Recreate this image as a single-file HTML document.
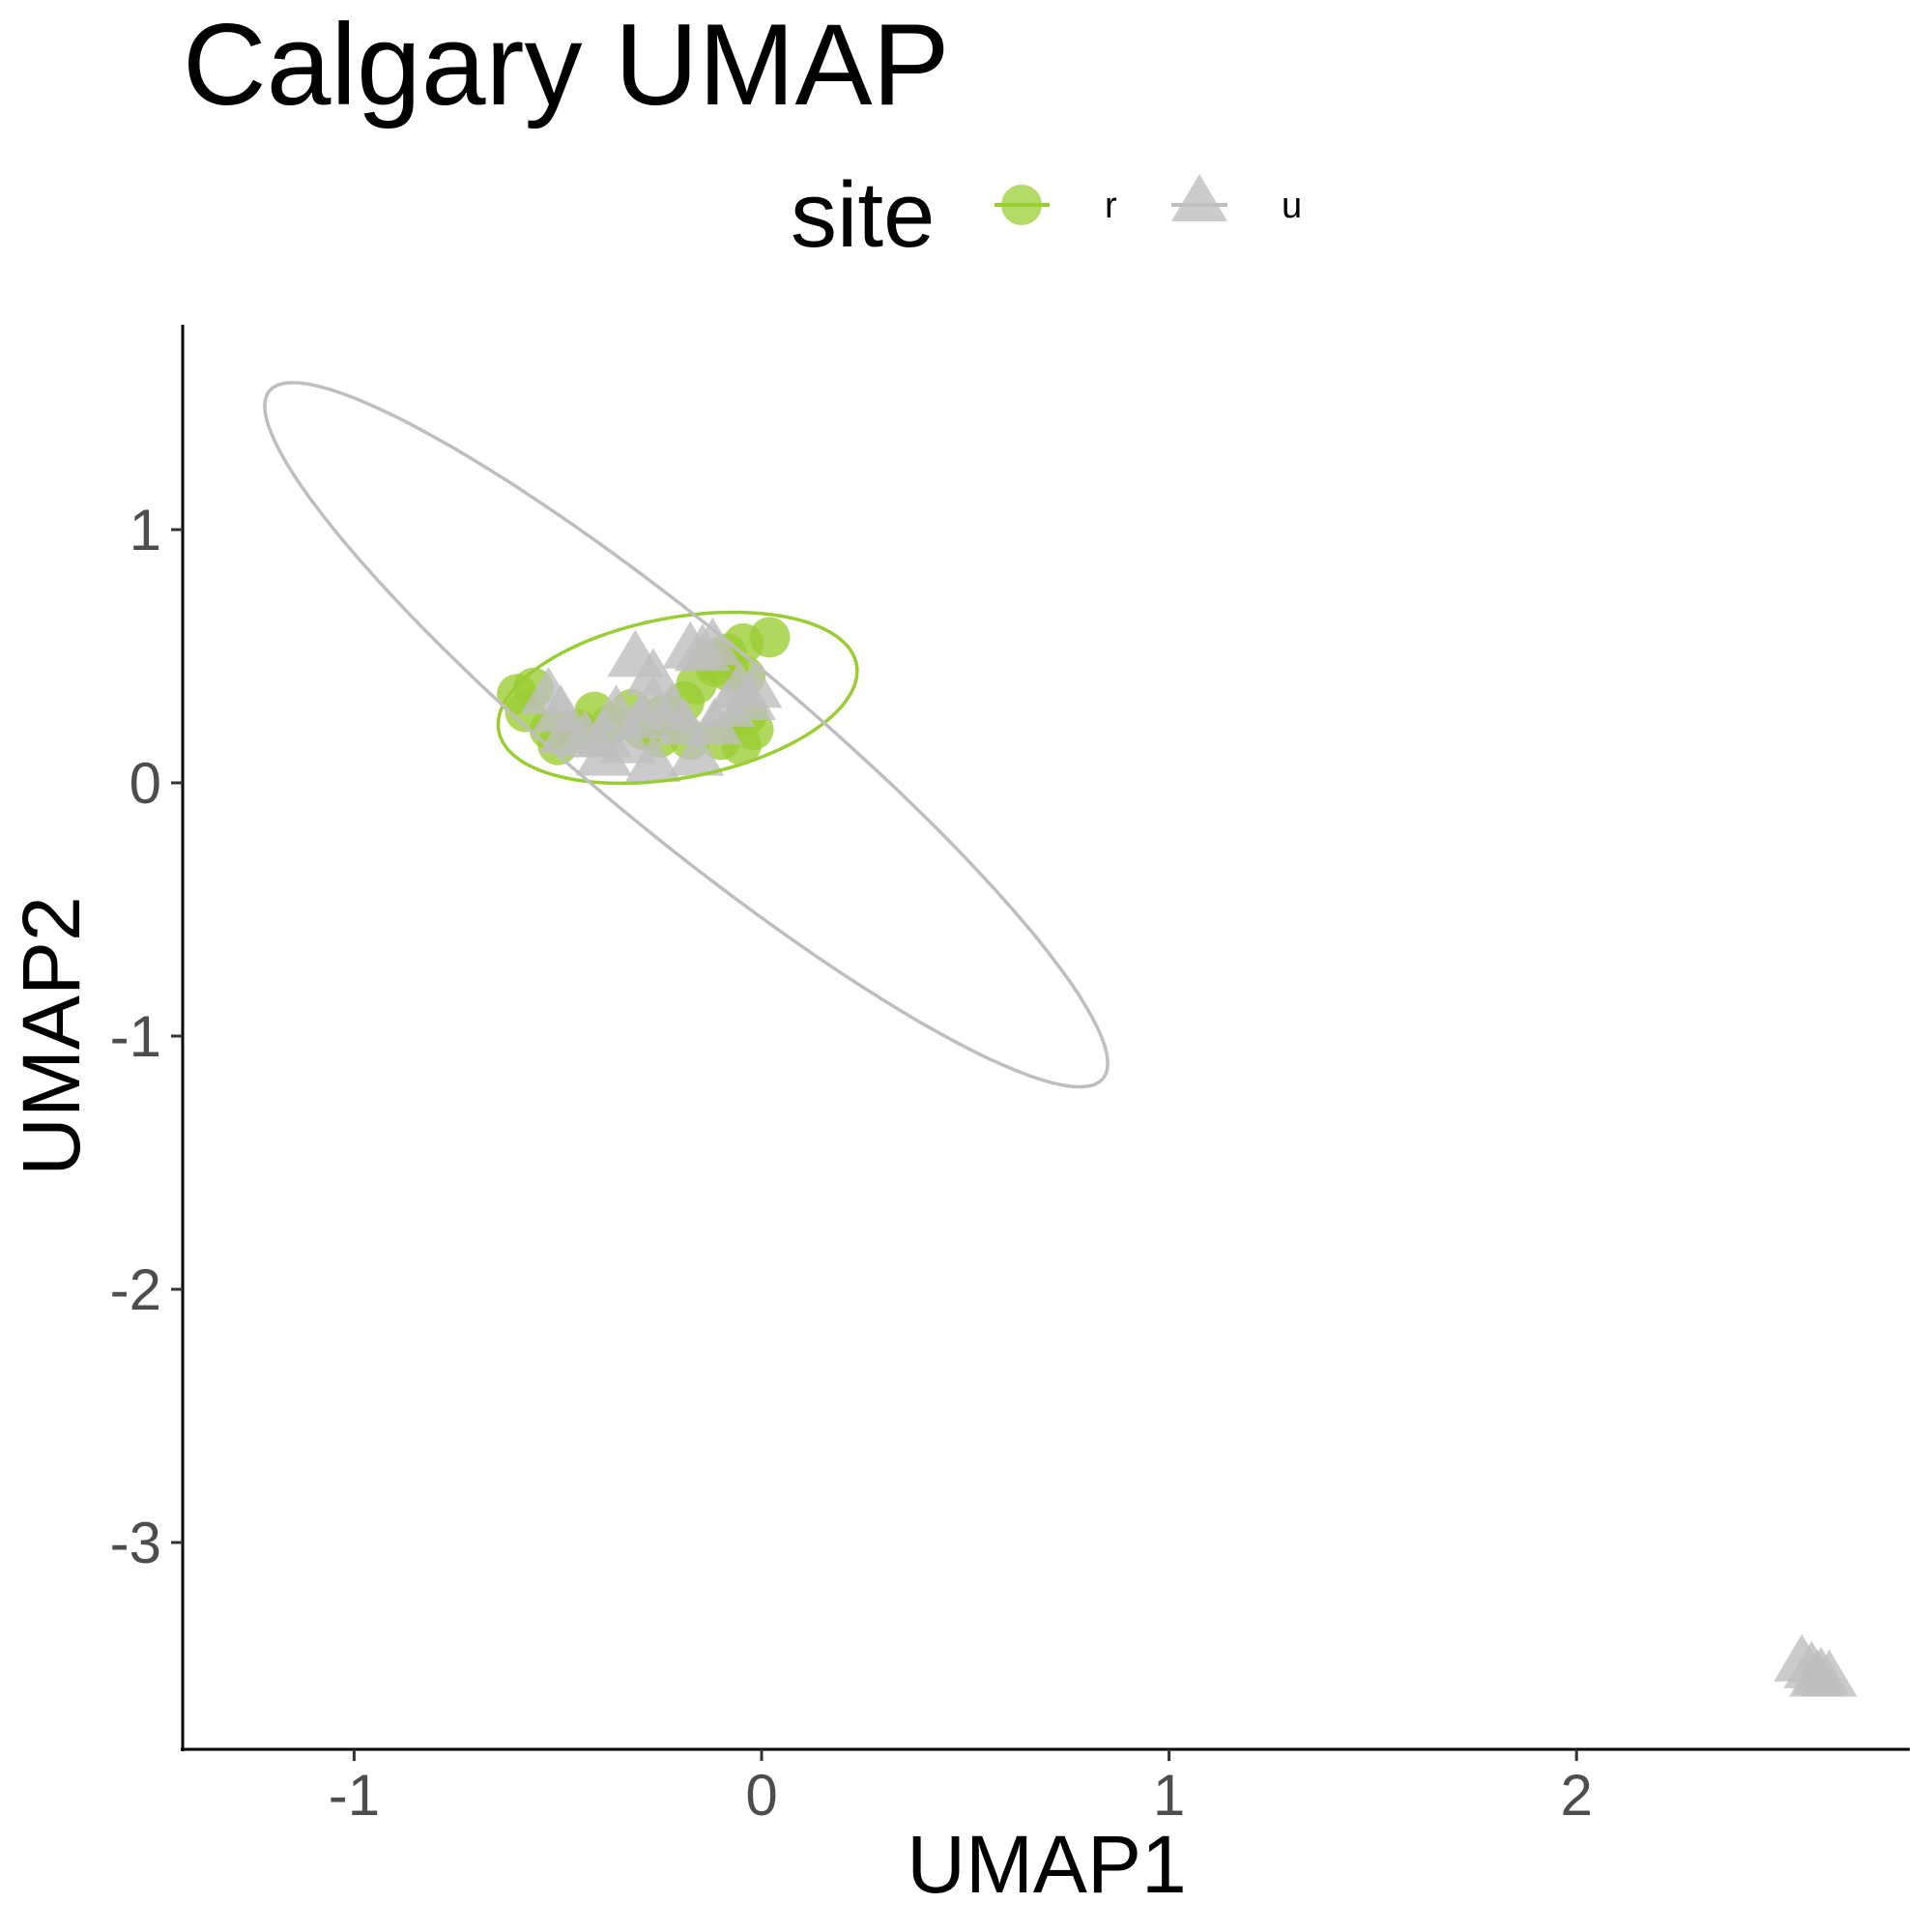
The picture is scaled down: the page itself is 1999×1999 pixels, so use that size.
<!DOCTYPE html>
<html><head><meta charset="utf-8"><style>
html,body{margin:0;padding:0;background:#fff;}
svg{display:block;font-family:"Liberation Sans",sans-serif;}
</style></head><body>
<svg id="chart" width="1999" height="1999" viewBox="0 0 1999 1999" xmlns="http://www.w3.org/2000/svg">
<text x="189" y="108" font-size="120" fill="#000">Calgary UMAP</text>
<g>
<text x="818" y="255" font-size="96" fill="#000">site</text>
<g>
<circle cx="1057" cy="212" r="21" fill="#9acd32" fill-opacity="0.75"/>
<line x1="1029" y1="212" x2="1086" y2="212" stroke="#9acd32" stroke-width="4"/>
<text x="1143" y="225" font-size="38" fill="#000">r</text></g>
<g>
<polygon points="1241,180 1270,229 1212,229" fill="#bebebe" fill-opacity="0.8"/>
<line x1="1212" y1="212" x2="1270" y2="212" stroke="#bebebe" stroke-width="4"/>
<text x="1326" y="225" font-size="38" fill="#000">u</text></g>
</g>
<g id="plot"></g>
<text x="1083" y="1958" font-size="84" text-anchor="middle" fill="#000">UMAP1</text>
<text transform="translate(82,1072) rotate(-90)" font-size="84" text-anchor="middle" fill="#000">UMAP2</text>
</svg>
<script>
const xTicks=[-1,0,1,2];
const yTicks=[1,0,-1,-2,-3];
const rX=[-0.60,-0.56,-0.58,-0.52,-0.50,-0.45,-0.41,-0.37,-0.32,-0.29,-0.24,-0.19,-0.16,-0.115,-0.085,-0.045,0.02,-0.04,-0.035,-0.05,-0.02,-0.10,-0.175,-0.25,-0.12,-0.08];
const rY=[0.35,0.375,0.28,0.21,0.15,0.21,0.28,0.23,0.29,0.21,0.27,0.32,0.39,0.46,0.51,0.55,0.575,0.42,0.27,0.15,0.21,0.17,0.17,0.18,0.49,0.44];
const uX=[-0.31,-0.266,-0.175,-0.145,-0.12,-0.523,-0.493,-0.387,-0.387,-0.357,-0.296,-0.266,-0.22,-0.266,-0.16,-0.115,-0.033,-0.018,-0.478,-0.433,-0.19,-0.085,-0.054,-0.327,2.553,2.577,2.60,2.62,2.59];
const uY=[0.487,0.414,0.52,0.51,0.535,0.34,0.27,0.17,0.097,0.27,0.244,0.307,0.278,0.073,0.097,0.22,0.317,0.365,0.185,0.17,0.22,0.29,0.365,0.146,-3.48,-3.507,-3.53,-3.54,-3.54];
// ellipses: center, axis vectors (data units)
const ellR=[-0.206,0.336,0.439,0.1315,0.036,-0.311];
const ellU=[-0.185,0.19,1.023,-1.358,0.154,0.300];

const X0=788,XU=421.6,Y0=810,YU=262;
const sx=v=>X0+v*XU, sy=v=>Y0-v*YU;
const NS="http://www.w3.org/2000/svg";
const plot=document.getElementById('plot');
function mk(t,a){const e=document.createElementNS(NS,t);for(const k in a)e.setAttribute(k,a[k]);return e;}

const ax=mk('line',{x1:189,y1:336,x2:189,y2:1812,stroke:'#000','stroke-width':3});


plot.appendChild(ax);
const axx=mk('line',{x1:187,y1:1810,x2:1976,y2:1810,stroke:'#000','stroke-width':3});


plot.appendChild(axx);
xTicks.forEach(t=>{
  const l=mk('line',{x1:sx(t),y1:1810,x2:sx(t),y2:1822,stroke:'#333','stroke-width':3});
  
  
  plot.appendChild(l);
  const tx=mk('text',{x:sx(t),y:1878,'font-size':60,'text-anchor':'middle',fill:'#4d4d4d'});
  
  
  tx.textContent=t;plot.appendChild(tx);
});
yTicks.forEach(t=>{
  const l=mk('line',{x1:177,y1:sy(t),x2:189,y2:sy(t),stroke:'#333','stroke-width':3});
  
  
  plot.appendChild(l);
  const tx=mk('text',{x:167,y:sy(t)+21,'font-size':60,'text-anchor':'end',fill:'#4d4d4d'});
  
  
  tx.textContent=t;plot.appendChild(tx);
});
function ell(p,col,name){
  let d='';
  for(let i=0;i<=120;i++){const a=i/120*2*Math.PI;
    const x=p[0]+p[2]*Math.cos(a)+p[4]*Math.sin(a), y=p[1]+p[3]*Math.cos(a)+p[5]*Math.sin(a);
    d+=(i?'L':'M')+sx(x).toFixed(1)+','+sy(y).toFixed(1);}
  const e=mk('path',{d:d+'Z',fill:'none',stroke:col,'stroke-width':3.5});
  
  
  plot.appendChild(e);
}
rX.forEach((x,i)=>{
  const c=mk('circle',{cx:sx(x),cy:sy(rY[i]),r:21,fill:'#9acd32','fill-opacity':0.78});
  
  
  plot.appendChild(c);
});
uX.forEach((x,i)=>{
  const cx=sx(x),cy=sy(uY[i]);
  const p=mk('polygon',{points:`${cx},${cy-31} ${cx+29},${cy+18} ${cx-29},${cy+18}`,fill:'#bebebe','fill-opacity':0.8});
  
  
  plot.appendChild(p);
});
ell(ellR,'#9acd32','ellipse-r');
ell(ellU,'#bebebe','ellipse-u');
</script>
</body></html>
